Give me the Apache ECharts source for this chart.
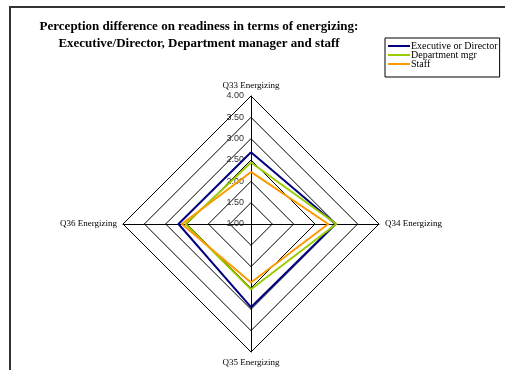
<!DOCTYPE html>
<html><head><meta charset="utf-8">
<script src="https://cdn.jsdelivr.net/npm/echarts@6/dist/echarts.min.js"></script>
<style>html,body{margin:0;padding:0;background:#fff}#c{width:505px;height:370px}</style>
</head><body><div id="c"></div>
<script>
const indicators = ['Q33 Energizing', 'Q36 Energizing', 'Q35 Energizing', 'Q34 Energizing'];
const seriesNames = ['Executive or Director', 'Department mgr', 'Staff'];
const execVals = [2.68, 2.70, 2.95, 2.98];
const deptVals = [2.44, 2.53, 2.53, 3.00];
const staffVals = [2.22, 2.62, 2.37, 2.81];
const tickMin = 1, tickMax = 4, tickStep = 0.5;
const colors = ['#000080', '#99CC00', '#FF9900'];

const cx = 251, cy = 224, R = 128;
const chart = echarts.init(document.getElementById('c'));
const serif = 'Liberation Serif, Times New Roman, serif';
chart.setOption({
  animation: false,
  title: {
    text: 'Perception difference on readiness in terms of energizing:\nExecutive/Director, Department manager and staff',
    left: 194, top: 13, textAlign: 'center',
    textStyle: {fontFamily: serif, fontWeight: 'bold', fontSize: 13, color: '#000', lineHeight: 17}
  },
  legend: {
    orient: 'vertical', left: 385, top: 38,
    data: seriesNames,
    icon: 'rect', itemWidth: 22, itemHeight: 2, itemGap: -1,
    borderColor: '#000', borderWidth: 1, padding: [3, 2, 8, 3],
    textStyle: {fontFamily: serif, fontSize: 10, lineHeight: 9, color: '#000', padding: [0, 0, 0, -4]}
  },
  graphic: [{
    type: 'polyline', silent: true,
    shape: {points: [[10, 372], [10, 7], [507, 7]]},
    style: {stroke: '#333', lineWidth: 2, fill: null}
  }],
  grid: {left: cx, top: cy - R, width: 1, height: R},
  xAxis: {type: 'value', show: false},
  yAxis: {
    type: 'value', min: tickMin, max: tickMax, interval: tickStep,
    axisLine: {show: false}, axisTick: {show: false}, splitLine: {show: false},
    axisLabel: {formatter: v => v.toFixed(2), fontFamily: 'Liberation Sans, Arial, sans-serif', fontSize: 9, color: '#333', margin: 7}
  },
  radar: {
    center: [cx, cy], radius: R, startAngle: 90, shape: 'polygon',
    splitNumber: 6,
    indicator: indicators.map(n => ({name: n, min: tickMin, max: tickMax})),
    axisName: {color: '#000', fontFamily: serif, fontSize: 9},
    nameGap: 6,
    axisLine: {lineStyle: {color: '#000', width: 1}},
    splitLine: {lineStyle: {color: '#000', width: 1}},
    splitArea: {show: false},
    axisLabel: {show: false}
  },
  series: [{
    type: 'radar', symbol: 'none',
    data: [
      {name: seriesNames[0], value: execVals, lineStyle: {color: colors[0], width: 2}, itemStyle: {color: colors[0]}},
      {name: seriesNames[1], value: deptVals, lineStyle: {color: colors[1], width: 2}, itemStyle: {color: colors[1]}},
      {name: seriesNames[2], value: staffVals, lineStyle: {color: colors[2], width: 2}, itemStyle: {color: colors[2]}}
    ]
  }]
});
</script></body></html>
